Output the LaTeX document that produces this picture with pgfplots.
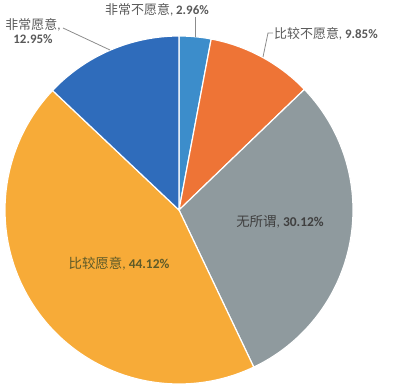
\documentclass[border=0pt]{standalone}
\usepackage{pgfplots}
\pgfplotsset{compat=1.18}
\usepackage{fontspec}
\setmainfont{Carlito}
\newfontfamily\cjk{Noto Sans CJK SC}
\definecolor{cA}{HTML}{3C8DCB}
\definecolor{cB}{HTML}{EE7436}
\definecolor{cC}{HTML}{8F9A9E}
\definecolor{cD}{HTML}{F7AB38}
\definecolor{cE}{HTML}{2F6CBB}
\definecolor{lbl}{HTML}{595959}
\definecolor{lineg}{HTML}{8C8C8C}
% shares (percent), clockwise from 12 o'clock
\def\pA{2.96}\def\pB{9.85}\def\pC{30.12}\def\pD{44.12}\def\pE{12.95}
\pgfmathsetmacro\aO{90}
\pgfmathsetmacro\aA{\aO-3.6*\pA}
\pgfmathsetmacro\aB{\aA-3.6*\pB}
\pgfmathsetmacro\aC{\aB-3.6*\pC}
\pgfmathsetmacro\aD{\aC-3.6*\pD}
\pgfmathsetmacro\aE{\aD-3.6*\pE}
\def\cx{179}\def\cy{179}\def\R{174}
\begin{document}
\begin{tikzpicture}
\begin{axis}[hide axis, scale only axis, width=394bp, height=389bp,
  xmin=0, xmax=394, ymin=0, ymax=389, clip=false]
\path (rel axis cs:0,0) rectangle (rel axis cs:1,1);
\addplot[fill=cA, draw=white, line width=1.2pt, domain=\aA:\aO, samples=20, variable=\t]
  ({\cx+\R*cos(\t)},{\cy+\R*sin(\t)}) -- (axis cs:\cx,\cy) -- cycle;
\addplot[fill=cB, draw=white, line width=1.2pt, domain=\aB:\aA, samples=40, variable=\t]
  ({\cx+\R*cos(\t)},{\cy+\R*sin(\t)}) -- (axis cs:\cx,\cy) -- cycle;
\addplot[fill=cC, draw=white, line width=1.2pt, domain=\aC:\aB, samples=90, variable=\t]
  ({\cx+\R*cos(\t)},{\cy+\R*sin(\t)}) -- (axis cs:\cx,\cy) -- cycle;
\addplot[fill=cD, draw=white, line width=1.2pt, domain=\aD:\aC, samples=120, variable=\t]
  ({\cx+\R*cos(\t)},{\cy+\R*sin(\t)}) -- (axis cs:\cx,\cy) -- cycle;
\addplot[fill=cE, draw=white, line width=1.2pt, domain=\aE:\aD, samples=40, variable=\t]
  ({\cx+\R*cos(\t)},{\cy+\R*sin(\t)}) -- (axis cs:\cx,\cy) -- cycle;
% leader lines
\addplot[lineg, line width=0.8pt] coordinates {(63,361) (110,339)};
\addplot[lineg, line width=0.8pt] coordinates {(195,372) (195,352)};
\addplot[lineg, line width=0.8pt] coordinates {(273,356) (268,356) (263,332)};
% labels
\node[text=lbl, font=\fontsize{13}{15}\selectfont, align=center, inner sep=1pt] at (axis cs:33,358)
  {{\cjk 非常愿意},\\[-1pt]\textbf{12.95\%}};
\node[text=lbl, font=\fontsize{13}{15}\selectfont, inner sep=1pt] at (axis cs:157,379)
  {{\cjk 非常不愿意}, \textbf{2.96\%}};
\node[text=lbl, font=\fontsize{13}{15}\selectfont, anchor=west, inner sep=1pt] at (axis cs:273,355)
  {{\cjk 比较不愿意}, \textbf{9.85\%}};
\node[text=black!75, font=\fontsize{13.5}{15}\selectfont] at (axis cs:280,167)
  {{\cjk 无所谓}, \textbf{30.12\%}};
\node[text={rgb,255:red,94;green,90;blue,40}, font=\fontsize{13.5}{15}\selectfont] at (axis cs:119,125)
  {{\cjk 比较愿意}, \textbf{44.12\%}};
\end{axis}
\end{tikzpicture}
\end{document}
